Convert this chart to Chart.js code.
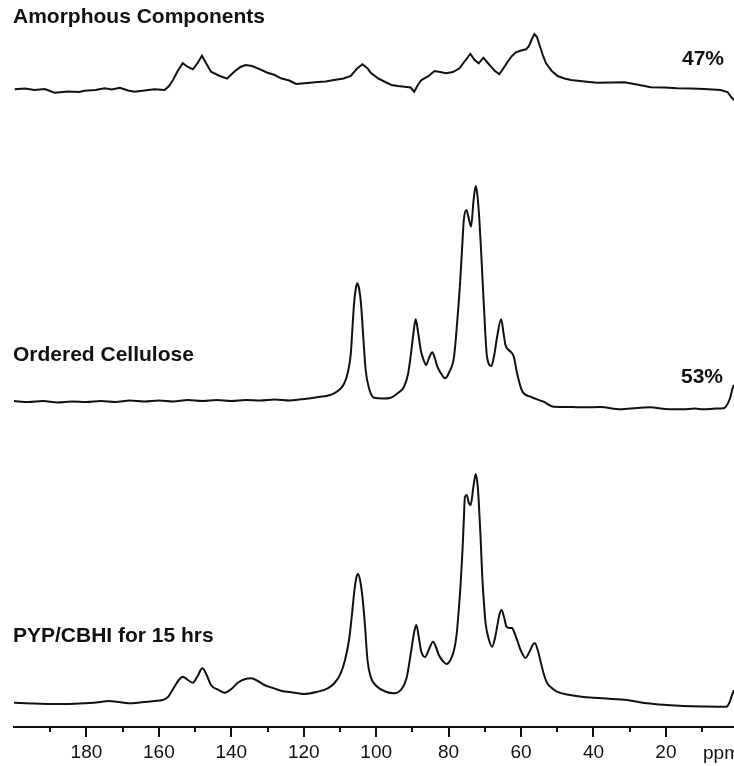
<!DOCTYPE html>
<html>
<head>
<meta charset="utf-8">
<script src="https://cdn.jsdelivr.net/npm/chart.js@4.4.1/dist/chart.umd.min.js"></script>
<style>
  html, body { margin: 0; padding: 0; background: #fff; }
  #wrap { position: relative; width: 734px; height: 766px; overflow: hidden; background: #fff; }
  #wrap canvas { position: absolute; left: 0; top: 0; }
  .lbl { position: absolute; font-family: "Liberation Sans", Arial, sans-serif; font-weight: bold; font-size: 21px; line-height: 21px; color: #111; white-space: nowrap; }
  .unit { position: absolute; font-family: "Liberation Sans", Arial, sans-serif; font-size: 19px; line-height: 19px; color: #111; white-space: nowrap; }
</style>
</head>
<body>
<div id="wrap">
  <canvas id="nmr" width="734" height="766"></canvas>
  <div class="lbl" style="left:13px; top:5px;">Amorphous Components</div>
  <div class="lbl" style="right:10px; top:47px;">47%</div>
  <div class="lbl" style="left:13px; top:343px;">Ordered Cellulose</div>
  <div class="lbl" style="right:11px; top:365px;">53%</div>
  <div class="lbl" style="left:13px; top:624px;">PYP/CBHI for 15 hrs</div>
  <div class="unit" style="left:703px; top:743px;">ppm</div>
</div>
<script>
// tick labels on the ppm axis
const tickLabels = [180, 160, 140, 120, 100, 80, 60, 40, 20];

// Amorphous Components (top trace)
const amorphousPpm = [199.8, 197, 194.3, 191.5, 188.8, 185, 182, 180.5, 177.5, 175, 173, 170.8, 168.5, 166.7, 164, 161.2, 158.4,
  157.2, 156.1, 154.8, 153.4, 152, 150.6, 149.3, 148.1, 147, 145.6, 143.5, 141.2, 139.2, 137.5, 136, 134.3, 132.7, 130,
  128, 126.3, 124, 122.1, 119, 116.2, 114, 111.6, 109, 107, 105.4, 103.8, 102.5, 101.5, 99.5, 97.5, 95.8, 94, 92.1,
  90.5, 89.5, 88.5, 87.5, 85.5, 83.9, 82.3, 80.7, 78.8, 77, 75.5, 74, 72.8, 71.7, 70.4, 69.4, 68.3, 67.2, 66, 64.8,
  63.7, 62.5, 61.4, 60, 58.6, 57.8, 57, 56.3, 55.6, 54.9, 54, 53.1, 51.5, 49.9, 48, 46.2, 42.5, 38.9, 35, 31.5, 28,
  24.2, 20.5, 16.9, 13, 9.5, 4.9, 3, 1.7, 1.2];
const amorphousInt = [0.7, 1.5, 0, 1, -2.7, -1.5, -2, -0.7, 0, 1.7, 0.5, 2.3, -0.5, -1.7, -0.5, 0.7, 0,
  4, 10, 19, 26.7, 23, 20.7, 27, 34.3, 27, 18.3, 14.5, 11.3, 18.3, 23, 25, 24, 21.7, 17.3,
  15, 11.7, 9.5, 6, 7, 8, 8.5, 10, 11.5, 14, 21, 25.7, 22, 17.3, 11.7, 8, 5, 4, 3.3,
  2.5, -1.7, 5, 10, 14, 19, 18, 16.7, 18, 21.7, 29, 36, 30, 26.7, 32.3, 28, 23.3, 19, 16, 22,
  28.3, 34, 37.7, 39.5, 40.7, 44, 51, 56, 53, 45, 35, 26.7, 19, 14, 11.5, 10, 8.5, 7.3, 7.5, 7.7, 5.5,
  2.7, 2.5, 1.7, 1.5, 1, 0, -2, -8.3, -10];

// Ordered Cellulose (middle trace)
const orderedPpm = [200, 196, 192, 188, 184, 180, 176, 172, 168, 164, 160, 156, 152, 148, 144, 140, 136, 132, 128, 124,
  120.8, 116, 111.6, 108.8, 107.8, 107, 106.5, 106.1, 105.6, 105.2, 104.7, 104.2, 103.6, 102.9, 102, 100.6, 98, 96,
  94, 92.3, 91.2, 90.5, 89.8, 89.1, 88.4, 87.7, 86.9, 86.2, 85.3, 84.5, 83.8, 83.1, 82, 81, 79.8, 78.5, 77.7, 76.9,
  76.3, 75.8, 75.1, 74.4, 73.8, 73.1, 72.5, 72, 71.5, 70.9, 70.3, 69.4, 68.2, 67.4, 66.6, 65.5, 64.8, 64.3, 63.4,
  62.9, 62, 61.1, 59.7, 57.4, 53.8, 51, 46, 42.8, 38, 32.6, 28, 24.4, 20, 15.2, 12, 9.7, 6, 4.2, 2.3, 1.6, 1.2];
const orderedInt = [2, 1, 2, 0.5, 1.5, 1, 2, 1, 2.5, 1.5, 2.5, 1.5, 3, 2, 3, 2, 3, 2.5, 3.5, 2.5,
  3.7, 6, 9.7, 19.7, 31, 49.7, 78, 99.7, 115, 119.7, 114, 99.7, 68, 33, 15, 5.3, 4.5, 5.3,
  10, 16.3, 29, 46.3, 67, 83.7, 70, 53, 43, 38, 46, 50.7, 45, 36.3, 29, 24.7, 31, 46.3, 78, 116.3,
  153, 183, 193, 184, 176.3, 203, 217, 206, 183, 143, 99.7, 46.3, 37, 48, 66.3, 83.7, 69, 58, 53,
  51.3, 46.3, 29.7, 12, 6.3, 1.3, -3.7, -4, -4.3, -4, -6.3, -5, -4.3, -6, -6.3, -5.5, -6.3, -5.5, -5.3, 4.7, 14.7, 18];

// PYP/CBHI for 15 hrs (bottom trace)
const pypPpm = [200, 195, 189.6, 185, 180.4, 176, 174, 171, 168.5, 164.8, 161.2, 159, 157.5, 155.7, 154.5, 153.4, 152,
  150.6, 149.3, 148, 146.8, 145.6, 143.5, 141.9, 140, 138.2, 136.5, 134.5, 132.7, 130.9, 128.5, 126.3, 123, 119.9,
  116.5, 113.4, 111.5, 109.8, 108.6, 107.5, 106.7, 106.1, 105.5, 105, 104.4, 103.8, 103.1, 102.4, 101.5, 99.7, 97.5,
  95.1, 93.2, 91.6, 90.3, 89.5, 88.9, 88.2, 87.6, 87, 86.5, 85.5, 84.3, 83.5, 82.7, 81.6, 80.6, 79.5, 78.5, 77.8,
  77.2, 76.7, 76.2, 75.8, 75.5, 75, 74.4, 73.9, 73.2, 72.5, 72, 71.7, 71.2, 70.7, 70.2, 69.8, 69, 68, 67.2, 66.6,
  66, 65.4, 64.7, 64, 63.2, 62.5, 61.8, 61.1, 60, 58.8, 57.7, 56.8, 56.2, 55.4, 54.7, 53.8, 52.8, 51.5, 50.1, 46.5,
  42.7, 36.5, 30.8, 27.5, 25.3, 20, 15.2, 9, 3.3, 2.5, 1.9, 1.2];
const pypInt = [0.3, -0.5, -1, -1, -0.3, 1, 2, 1, -0.3, 0.7, 2, 3, 6, 16.3, 23, 26.3, 23,
  20.3, 27, 34.7, 28, 18, 13, 10.3, 14, 20.3, 23.5, 24.7, 22, 18, 15, 12.3, 10.5, 9,
  11, 14.7, 20, 29.7, 43, 63, 88, 109.7, 125, 129, 122, 106.3, 78, 43, 26, 16.3, 11.5,
  9.7, 13, 25, 53, 71, 78, 65, 52, 47, 46, 53, 61.3, 56, 48, 42, 39, 43, 53, 68,
  93, 118, 150, 183, 206, 208, 200, 198, 215, 229, 218, 203, 168, 126, 98, 80, 65, 56.3, 65, 76.3,
  88, 93, 86, 76.3, 75, 75, 70, 63, 52, 45, 51, 58, 60, 53, 43, 30, 20, 15, 11.3, 8,
  6, 4.5, 3, 1, -0.3, -2, -3, -3.5, -3.7, 0, 6.3, 13];

// vertical stacking of the three traces (chart units above the axis)
const traceOffsets = [637, 324, 24];

function buildPoints(ppm, vals, offset) {
  return ppm.map((p, i) => ({ x: p, y: vals[i] + offset }));
}

// major ticks every 20 ppm, minor ones in between
const tickMarks = {
  id: "tickMarks",
  afterDraw(chart) {
    const s = chart.scales.x;
    const ctx = chart.ctx;
    ctx.save();
    ctx.strokeStyle = "#111";
    ctx.lineWidth = 2;
    s.ticks.forEach((t) => {
      const v = t.value;
      if (v < 10 || v > 190 || v % 10 !== 0) return;
      const len = v % 20 === 0 ? 10 : 5;
      const px = Math.round(s.getPixelForValue(v));
      ctx.beginPath();
      ctx.moveTo(px, s.top);
      ctx.lineTo(px, s.top + len);
      ctx.stroke();
    });
    ctx.restore();
  },
};

const lineStyle = {
  borderColor: "#111",
  borderWidth: 2,
  pointRadius: 0,
  fill: false,
};

new Chart(document.getElementById("nmr"), {
  type: "line",
  data: {
    datasets: [
      { ...lineStyle, label: "Amorphous Components", data: buildPoints(amorphousPpm, amorphousInt, traceOffsets[0]), tension: 0 },
      { ...lineStyle, label: "Ordered Cellulose", data: buildPoints(orderedPpm, orderedInt, traceOffsets[1]), cubicInterpolationMode: "monotone" },
      { ...lineStyle, label: "PYP/CBHI for 15 hrs", data: buildPoints(pypPpm, pypInt, traceOffsets[2]), cubicInterpolationMode: "monotone" },
    ],
  },
  options: {
    responsive: false,
    animation: false,
    devicePixelRatio: 1,
    layout: { padding: { left: 13, right: 0, top: 0, bottom: 0 } },
    plugins: { legend: { display: false }, tooltip: { enabled: false } },
    scales: {
      x: {
        type: "linear",
        reverse: true,
        min: 1.2,
        max: 200,
        afterFit(scale) {
          scale.height = 39;
        },
        grid: { display: false, drawTicks: false },
        border: { display: true, color: "#111", width: 2 },
        ticks: {
          stepSize: 10,
          includeBounds: false,
          autoSkip: false,
          maxRotation: 0,
          padding: 14,
          color: "#111",
          font: { family: "Liberation Sans, Arial, sans-serif", size: 19 },
          callback: (v) => (tickLabels.includes(v) ? String(v) : ""),
        },
      },
      y: {
        display: false,
        min: 0,
        max: 727,
      },
    },
  },
  plugins: [tickMarks],
});
</script>
</body>
</html>
